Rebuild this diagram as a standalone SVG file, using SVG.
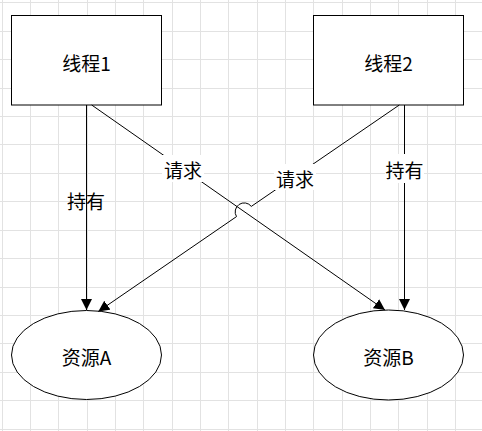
<svg xmlns="http://www.w3.org/2000/svg" width="482" height="431" viewBox="0 0 482 431">
<style>
.grid{stroke:#e2e2e2;stroke-width:1;fill:none}
.node{fill:#ffffff;stroke:#000000;stroke-width:1}
.edge{fill:none;stroke:#000000;stroke-width:1}
.lblbg{fill:#ffffff;stroke:none}
text{font-family:"Noto Sans CJK SC","Microsoft YaHei",sans-serif;font-size:19px;fill:#000000;text-anchor:middle;dominant-baseline:central}
</style>
<defs>
<marker id="arrow" viewBox="0 0 11 11" refX="11" refY="5.5" markerWidth="11" markerHeight="11" markerUnits="userSpaceOnUse" orient="auto">
<path d="M0,0 L11,5.5 L0,11 Z" fill="#000000"/>
</marker>
</defs>
<rect x="0" y="0" width="482" height="431" fill="#ffffff"/>
<path class="grid" d="M2.5 0V431M30.5 0V431M58.5 0V431M87.5 0V431M115.5 0V431M143.5 0V431M172.5 0V431M200.5 0V431M228.5 0V431M257.5 0V431M285.5 0V431M313.5 0V431M342.5 0V431M370.5 0V431M398.5 0V431M427.5 0V431M455.5 0V431M0 2.5H482M0 31.5H482M0 59.5H482M0 88.5H482M0 116.5H482M0 144.5H482M0 173.5H482M0 201.5H482M0 230.5H482M0 258.5H482M0 287.5H482M0 315.5H482M0 343.5H482M0 372.5H482M0 400.5H482M0 429.5H482"/>
<g id="thread1">
<rect class="node" x="11.5" y="15.5" width="150" height="89.5"/>
<text x="86.5" y="62">线程1</text>
</g>
<g id="thread2">
<rect class="node" x="313.5" y="15.5" width="150" height="89.5"/>
<text x="388.5" y="62">线程2</text>
</g>
<g id="resourceA">
<ellipse class="node" cx="86.5" cy="355" rx="75" ry="44.5"/>
<text x="86.5" y="356">资源A</text>
</g>
<g id="resourceB">
<ellipse class="node" cx="388.5" cy="355" rx="75" ry="45"/>
<text x="388.5" y="356">资源B</text>
</g>
<g id="connectors">
<path class="edge" d="M86.5 105V310" marker-end="url(#arrow)"/>
<text x="86" y="200">持有</text>
<path class="edge" d="M404.5 105V310" marker-end="url(#arrow)"/>
<rect class="lblbg" x="385" y="154" width="39" height="29"/>
<text x="404.5" y="169.5">持有</text>
<path class="edge" d="M91.7 105L385 310" marker-end="url(#arrow)"/>
<rect class="lblbg" x="162" y="155" width="42" height="27"/>
<text x="183" y="169.5">请求</text>
<path class="edge" d="M399.3 105L251.3 206.4A9 9 0 0 0 236.5 216.6L98.3 311.5" marker-end="url(#arrow)"/>
<rect class="lblbg" x="274" y="164" width="42" height="26"/>
<text x="295" y="178">请求</text>
</g>
</svg>
